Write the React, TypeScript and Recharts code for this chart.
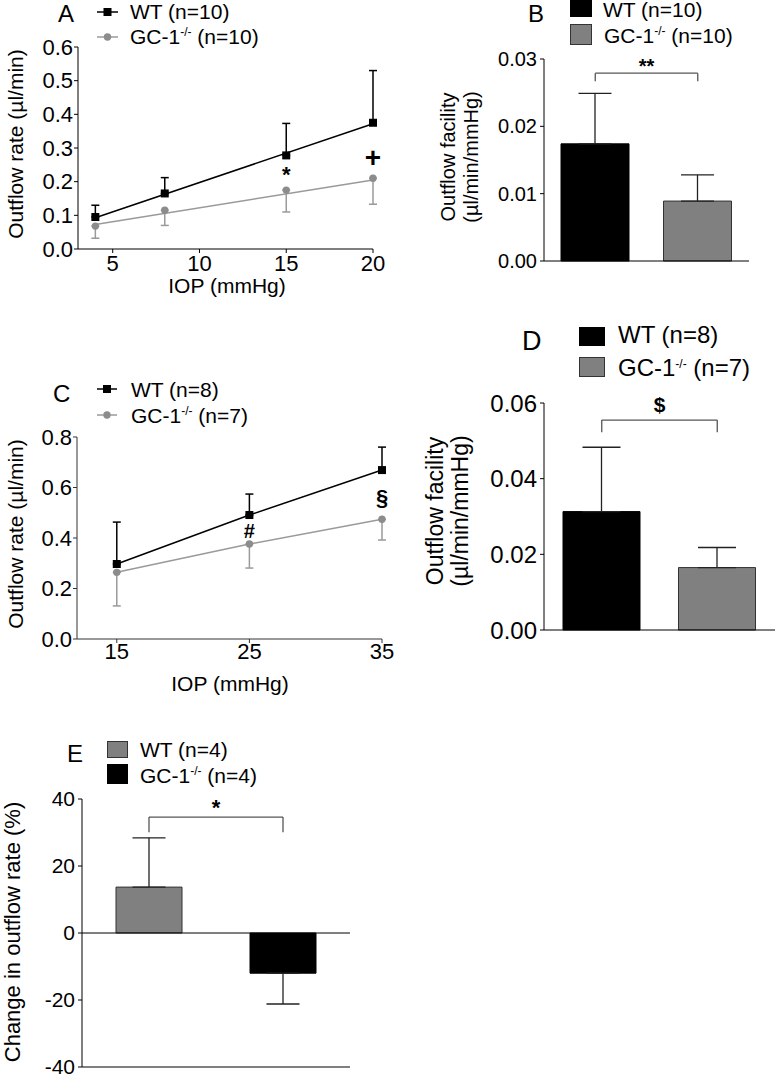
import React from 'react';
import {
  ComposedChart,
  BarChart,
  Bar,
  Line,
  Scatter,
  XAxis,
  YAxis,
  ErrorBar,
  ReferenceLine,
  ReferenceDot,
  Cell,
} from 'recharts';

const FONT = '"Liberation Sans", Arial, Helvetica, sans-serif';
const GRAY_LINE = '#9a9a9a';
const GRAY_DOT = '#8c8c8c';
const GRAY_BAR = '#808080';
const BAR_EDGE = '#333333';

// Panel A: outflow rate vs IOP
const iopA = [4, 8, 15, 20];
const wtRateA = [0.095, 0.165, 0.278, 0.375];
const wtSemA = [0.035, 0.047, 0.095, 0.155];
const gcRateA = [0.068, 0.115, 0.175, 0.21];
const gcSemA = [0.036, 0.045, 0.065, 0.077];
const fitIopA = [4, 20];
const wtFitA = [0.093, 0.372];
const gcFitA = [0.073, 0.205];
const ticksXA = [5, 10, 15, 20];
const ticksYA = [0, 0.1, 0.2, 0.3, 0.4, 0.5, 0.6];

// Panel B: outflow facility
const groups = ['WT', 'GC-1-/-'];
const facilityB = [0.0174, 0.0089];
const facilitySemB = [0.0075, 0.0039];
const ticksYB = [0, 0.01, 0.02, 0.03];

// Panel C: outflow rate vs IOP
const iopC = [15, 25, 35];
const wtRateC = [0.297, 0.491, 0.669];
const wtSemC = [0.166, 0.083, 0.091];
const gcRateC = [0.264, 0.376, 0.474];
const gcSemC = [0.133, 0.095, 0.082];
const ticksXC = [15, 25, 35];
const ticksYC = [0, 0.2, 0.4, 0.6, 0.8];

// Panel D: outflow facility
const facilityD = [0.0313, 0.0165];
const facilitySemD = [0.017, 0.0053];
const ticksYD = [0, 0.02, 0.04, 0.06];

// Panel E: change in outflow rate
const changeE = [13.7, -12.0];
const changeSemE = [14.7, 9.2];
const ticksYE = [-40, -20, 0, 20, 40];

const rowsA = iopA.map((iop, i) => ({
  iop,
  wt: wtRateA[i],
  wtErr: [0, wtSemA[i]],
  gc: gcRateA[i],
  gcErr: [gcSemA[i], 0],
}));
const fitRowsA = fitIopA.map((iop, i) => ({ iop, wtFit: wtFitA[i], gcFit: gcFitA[i] }));
const rowsB = groups.map((group, i) => ({ group, value: facilityB[i], err: [0, facilitySemB[i]] }));
const rowsC = iopC.map((iop, i) => ({
  iop,
  wt: wtRateC[i],
  wtErr: [0, wtSemC[i]],
  gc: gcRateC[i],
  gcErr: [gcSemC[i], 0],
}));
const rowsD = groups.map((group, i) => ({ group, value: facilityD[i], err: [0, facilitySemD[i]] }));
const rowsE = groups.map((group, i) => ({
  group,
  value: changeE[i],
  err: changeE[i] >= 0 ? [0, changeSemE[i]] : [changeSemE[i], 0],
}));

const tick = (size: number) => ({ fontSize: size, fill: '#000', fontFamily: FONT });

const blackSquare = (p: any) => <rect x={p.cx - 4} y={p.cy - 4} width={8} height={8} fill="#000" />;
const grayDot = (p: any) => <circle cx={p.cx} cy={p.cy} r={3.7} fill={GRAY_DOT} />;
const lineSquare = (p: any) => (
  <rect key={`s${p.index}`} x={p.cx - 4} y={p.cy - 4} width={8} height={8} fill="#000" />
);
const lineDot = (p: any) => <circle key={`c${p.index}`} cx={p.cx} cy={p.cy} r={3.7} fill={GRAY_DOT} />;

const mark = (value: string, size: number) => ({
  value,
  position: 'center' as const,
  fontSize: size,
  fontWeight: 'bold',
  fill: '#000',
  fontFamily: FONT,
});

function Sup({ children }: { children: string }) {
  return (
    <>
      <tspan dy={-8} fontSize={12}>
        {children}
      </tspan>
      <tspan dy={8}> </tspan>
    </>
  );
}

function Overlay() {
  return (
    <svg
      width={775}
      height={1074}
      style={{ position: 'absolute', left: 0, top: 0, pointerEvents: 'none', fontFamily: FONT }}
    >
      {/* panel letters */}
      <text x={58} y={22} fontSize={24}>A</text>
      <text x={528} y={22} fontSize={24}>B</text>
      <text x={53} y={402} fontSize={24}>C</text>
      <text x={522} y={350} fontSize={27}>D</text>
      <text x={67} y={762} fontSize={24}>E</text>

      {/* legend A */}
      <line x1={97} x2={118} y1={12} y2={12} stroke="#000" strokeWidth={1.5} />
      <rect x={103.5} y={8} width={8} height={8} fill="#000" />
      <text x={130} y={19} fontSize={21}>WT (n=10)</text>
      <line x1={97} x2={118} y1={37} y2={37} stroke={GRAY_LINE} strokeWidth={1.5} />
      <circle cx={107.5} cy={37} r={3.7} fill={GRAY_DOT} />
      <text x={130} y={44} fontSize={21}>
        GC-1<Sup>-/-</Sup>(n=10)
      </text>

      {/* legend B */}
      <rect x={570} y={-5} width={22} height={22} fill="#000" />
      <text x={603} y={17} fontSize={21}>WT (n=10)</text>
      <rect x={570.5} y={24.5} width={21} height={20} fill={GRAY_BAR} stroke={BAR_EDGE} />
      <text x={604} y={43} fontSize={21}>
        GC-1<Sup>-/-</Sup>(n=10)
      </text>

      {/* legend C */}
      <line x1={97} x2={117} y1={389} y2={389} stroke="#000" strokeWidth={1.5} />
      <rect x={103} y={385} width={8} height={8} fill="#000" />
      <text x={131} y={397} fontSize={21}>WT (n=8)</text>
      <line x1={97} x2={117} y1={415} y2={415} stroke={GRAY_LINE} strokeWidth={1.5} />
      <circle cx={107} cy={415} r={3.7} fill={GRAY_DOT} />
      <text x={131} y={423} fontSize={21}>
        GC-1<Sup>-/-</Sup>(n=7)
      </text>

      {/* legend D */}
      <rect x={579} y={327} width={26} height={19} fill="#000" />
      <text x={618} y={343} fontSize={24}>WT (n=8)</text>
      <rect x={579.5} y={357.5} width={25} height={19} fill={GRAY_BAR} stroke={BAR_EDGE} />
      <text x={618} y={376} fontSize={24}>
        GC-1<Sup>-/-</Sup>(n=7)
      </text>

      {/* legend E */}
      <rect x={107.5} y={741.5} width={20} height={16} fill={GRAY_BAR} stroke={BAR_EDGE} />
      <text x={140} y={757} fontSize={21}>WT (n=4)</text>
      <rect x={107} y={764} width={21} height={20} fill="#000" />
      <text x={140} y={783} fontSize={21}>
        GC-1<Sup>-/-</Sup>(n=4)
      </text>

      {/* axis titles */}
      <text transform="translate(23,144) rotate(-90)" textAnchor="middle" fontSize={21}>
        Outflow rate (µl/min)
      </text>
      <text x={227} y={293} textAnchor="middle" fontSize={21}>IOP (mmHg)</text>
      <text transform="translate(455,157) rotate(-90)" textAnchor="middle" fontSize={20}>
        Outflow facility
      </text>
      <text transform="translate(478,157) rotate(-90)" textAnchor="middle" fontSize={20}>
        (µl/min/mmHg)
      </text>
      <text transform="translate(23,534) rotate(-90)" textAnchor="middle" fontSize={21}>
        Outflow rate (µl/min)
      </text>
      <text x={230} y={691} textAnchor="middle" fontSize={21}>IOP (mmHg)</text>
      <text transform="translate(443,511) rotate(-90)" textAnchor="middle" fontSize={23}>
        Outflow facility
      </text>
      <text transform="translate(468,511) rotate(-90)" textAnchor="middle" fontSize={23}>
        (µl/min/mmHg)
      </text>
      <text transform="translate(20,932) rotate(-90)" textAnchor="middle" fontSize={22}>
        Change in outflow rate (%)
      </text>
    </svg>
  );
}

export default function App() {
  return (
    <div
      style={{
        position: 'absolute',
        left: 0,
        top: 0,
        width: 775,
        height: 1074,
        background: '#fff',
        fontFamily: FONT,
        overflow: 'hidden',
      }}
    >
      {/* A */}
      <div style={{ position: 'absolute', left: 0, top: 0 }}>
        <ComposedChart width={390} height={300} data={rowsA} margin={{ top: 47, right: 17, bottom: 0, left: 0 }}>
          <XAxis
            type="number"
            dataKey="iop"
            domain={[3, 20]}
            ticks={ticksXA}
            interval={0}
            height={51}
            stroke="#000"
            tickSize={4}
            tickMargin={2}
            tick={tick(22)}
          />
          <YAxis
            type="number"
            domain={[0, 0.6]}
            ticks={ticksYA}
            interval={0}
            width={78}
            stroke="#000"
            tickSize={4}
            tickMargin={1}
            tick={tick(22)}
            tickFormatter={(v: number) => v.toFixed(1)}
          />
          <Line data={fitRowsA} dataKey="gcFit" stroke={GRAY_LINE} strokeWidth={1.5} dot={false} isAnimationActive={false} />
          <Line data={fitRowsA} dataKey="wtFit" stroke="#000" strokeWidth={1.5} dot={false} isAnimationActive={false} />
          <Scatter dataKey="gc" shape={grayDot} isAnimationActive={false}>
            <ErrorBar dataKey="gcErr" direction="y" width={4} stroke={GRAY_LINE} strokeWidth={1.5} />
          </Scatter>
          <Scatter dataKey="wt" shape={blackSquare} isAnimationActive={false}>
            <ErrorBar dataKey="wtErr" direction="y" width={4} stroke="#000" strokeWidth={1.5} />
          </Scatter>
          <ReferenceDot x={15} y={0.222} r={0} fill="none" stroke="none" label={mark('*', 22)} />
          <ReferenceDot x={20} y={0.273} r={0} fill="none" stroke="none" label={mark('+', 28)} />
        </ComposedChart>
      </div>

      {/* B */}
      <div style={{ position: 'absolute', left: 390, top: 0 }}>
        <BarChart width={385} height={300} data={rowsB} margin={{ top: 59, right: 26, bottom: 0, left: 0 }}>
          <XAxis dataKey="group" tick={false} tickLine={false} height={39} stroke="#000" />
          <YAxis
            type="number"
            domain={[0, 0.03]}
            ticks={ticksYB}
            interval={0}
            width={154}
            stroke="#000"
            tickSize={4}
            tickMargin={3}
            tick={tick(20)}
            tickFormatter={(v: number) => v.toFixed(2)}
          />
          <Bar dataKey="value" barSize={68} isAnimationActive={false}>
            <Cell fill="#000" stroke="#000" />
            <Cell fill={GRAY_BAR} stroke={BAR_EDGE} />
            <ErrorBar dataKey="err" direction="y" width={16.5} stroke="#222" strokeWidth={1.3} />
          </Bar>
          <ReferenceLine
            segment={[{ x: 'WT', y: 0.0279 }, { x: 'GC-1-/-', y: 0.0279 }]}
            stroke="#555"
            strokeWidth={1.3}
            label={{ value: '**', position: 'top', fontSize: 20, fontWeight: 'bold', fill: '#000', offset: 0 }}
          />
          <ReferenceLine segment={[{ x: 'WT', y: 0.0279 }, { x: 'WT', y: 0.0267 }]} stroke="#555" strokeWidth={1.3} />
          <ReferenceLine segment={[{ x: 'GC-1-/-', y: 0.0279 }, { x: 'GC-1-/-', y: 0.0267 }]} stroke="#555" strokeWidth={1.3} />
        </BarChart>
      </div>

      {/* C */}
      <div style={{ position: 'absolute', left: 0, top: 310 }}>
        <ComposedChart width={400} height={360} data={rowsC} margin={{ top: 127, right: 18, bottom: 0, left: 0 }}>
          <XAxis
            type="number"
            dataKey="iop"
            domain={[12, 35]}
            ticks={ticksXC}
            interval={0}
            height={31}
            stroke="#333"
            tickSize={4}
            tickMargin={0}
            tick={tick(22)}
          />
          <YAxis
            type="number"
            domain={[0, 0.8]}
            ticks={ticksYC}
            interval={0}
            width={77}
            stroke="#333"
            tickSize={4}
            tickMargin={1}
            tick={tick(22)}
            tickFormatter={(v: number) => v.toFixed(1)}
          />
          <Line dataKey="gc" stroke={GRAY_LINE} strokeWidth={1.5} dot={lineDot} isAnimationActive={false}>
            <ErrorBar dataKey="gcErr" direction="y" width={4} stroke={GRAY_LINE} strokeWidth={1.5} />
          </Line>
          <Line dataKey="wt" stroke="#000" strokeWidth={1.5} dot={lineSquare} isAnimationActive={false}>
            <ErrorBar dataKey="wtErr" direction="y" width={4} stroke="#000" strokeWidth={1.5} />
          </Line>
          <ReferenceDot x={25} y={0.43} r={0} fill="none" stroke="none" label={mark('#', 20)} />
          <ReferenceDot x={35} y={0.56} r={0} fill="none" stroke="none" label={mark('§', 22)} />
        </ComposedChart>
      </div>

      {/* D */}
      <div style={{ position: 'absolute', left: 390, top: 310 }}>
        <BarChart width={385} height={360} data={rowsD} margin={{ top: 93, right: 0, bottom: 0, left: 0 }}>
          <XAxis dataKey="group" tick={false} tickLine={false} height={40} stroke="#000" />
          <YAxis
            type="number"
            domain={[0, 0.06]}
            ticks={ticksYD}
            interval={0}
            width={154}
            stroke="#000"
            tickSize={4}
            tickMargin={3}
            tick={tick(24)}
            tickFormatter={(v: number) => v.toFixed(2)}
          />
          <Bar dataKey="value" barSize={77} isAnimationActive={false}>
            <Cell fill="#000" stroke="#000" />
            <Cell fill={GRAY_BAR} stroke={BAR_EDGE} />
            <ErrorBar dataKey="err" direction="y" width={19} stroke="#222" strokeWidth={1.3} />
          </Bar>
          <ReferenceLine
            segment={[{ x: 'WT', y: 0.0555 }, { x: 'GC-1-/-', y: 0.0555 }]}
            stroke="#555"
            strokeWidth={1.3}
            label={{ value: '$', position: 'top', fontSize: 21, fontWeight: 'bold', fill: '#000', offset: 8 }}
          />
          <ReferenceLine segment={[{ x: 'WT', y: 0.0555 }, { x: 'WT', y: 0.0523 }]} stroke="#555" strokeWidth={1.3} />
          <ReferenceLine segment={[{ x: 'GC-1-/-', y: 0.0555 }, { x: 'GC-1-/-', y: 0.0523 }]} stroke="#555" strokeWidth={1.3} />
        </BarChart>
      </div>

      {/* E */}
      <div style={{ position: 'absolute', left: 0, top: 670 }}>
        <BarChart width={390} height={404} data={rowsE} margin={{ top: 129, right: 40, bottom: 0, left: 0 }}>
          <XAxis dataKey="group" tick={false} tickLine={false} height={7} stroke="#000" />
          <YAxis
            type="number"
            domain={[-40, 40]}
            ticks={ticksYE}
            interval={0}
            width={82}
            stroke="#000"
            tickSize={4}
            tickMargin={3}
            tick={tick(21)}
          />
          <ReferenceLine y={0} stroke="#000" strokeWidth={1.2} />
          <Bar dataKey="value" barSize={66} isAnimationActive={false}>
            <Cell fill={GRAY_BAR} stroke={BAR_EDGE} />
            <Cell fill="#000" stroke="#000" />
            <ErrorBar dataKey="err" direction="y" width={16.5} stroke="#222" strokeWidth={1.3} />
          </Bar>
          <ReferenceLine
            segment={[{ x: 'WT', y: 34.6 }, { x: 'GC-1-/-', y: 34.6 }]}
            stroke="#555"
            strokeWidth={1.3}
            label={{ value: '*', position: 'top', fontSize: 22, fontWeight: 'bold', fill: '#000', offset: 2 }}
          />
          <ReferenceLine segment={[{ x: 'WT', y: 34.6 }, { x: 'WT', y: 30.1 }]} stroke="#555" strokeWidth={1.3} />
          <ReferenceLine segment={[{ x: 'GC-1-/-', y: 34.6 }, { x: 'GC-1-/-', y: 30.1 }]} stroke="#555" strokeWidth={1.3} />
        </BarChart>
      </div>

      <Overlay />
    </div>
  );
}
